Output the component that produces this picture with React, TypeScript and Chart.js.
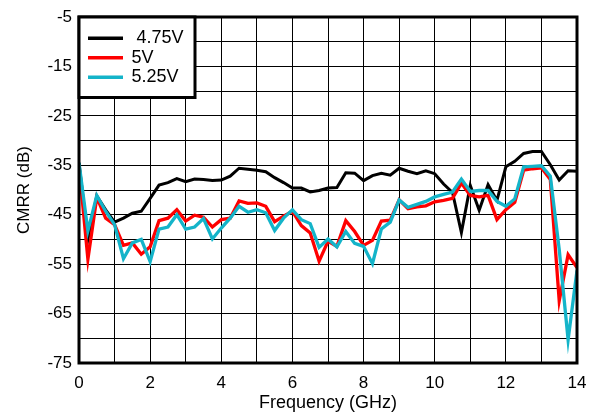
import React, { useEffect, useRef } from "react";
import { Chart, registerables } from "chart.js";

Chart.register(...registerables);

// Frequency points (GHz)
const FREQ_GHZ = [
  0, 0.25, 0.5, 0.75, 1, 1.25, 1.5, 1.75, 2, 2.25, 2.5, 2.75, 3, 3.25, 3.5, 3.75,
  4, 4.25, 4.5, 4.75, 5, 5.25, 5.5, 5.75, 6, 6.25, 6.5, 6.75, 7, 7.25, 7.5, 7.75,
  8, 8.25, 8.5, 8.75, 9, 9.25, 9.5, 9.75, 10, 10.25, 10.5, 10.75, 11, 11.25, 11.5,
  11.75, 12, 12.25, 12.5, 12.75, 13, 13.25, 13.5, 13.75, 14,
];

// CMRR (dB) for 4.75V supply
const CMRR_4V75 = [
  -34.5, -50, -41.2, -44, -46.5, -45.7, -44.7, -44.3, -41.7, -39, -38.5, -37.7, -38.3, -37.8, -37.9, -38.1,
  -38, -37.2, -35.6, -35.8, -36, -36.3, -37.5, -38.5, -39.6, -39.6, -40.4, -40.1, -39.6, -39.5, -36.5, -36.6,
  -38.1, -37.1, -36.6, -37, -35.6, -36.2, -36.7, -36.1, -36.7, -38.8, -40.5, -48.6, -39.1, -44.1, -38.9,
  -42.1, -35.3, -34.2, -32.6, -32.2, -32.2, -34.9, -38, -36.1, -36.2,
];

// CMRR (dB) for 5V supply
const CMRR_5V = [
  -35, -54, -41.5, -45.7, -47, -51.2, -50.7, -53, -51.5, -46.2, -45.7, -44, -46.3, -45.1, -45.5, -47.5,
  -46, -45.7, -42.2, -42.7, -42.6, -43.3, -46.4, -45.3, -44.3, -47.2, -48.7, -54.4, -50.4, -51.4, -46.2, -48.4,
  -51.2, -50.2, -46.3, -46.1, -42, -43.8, -43.4, -43.2, -42.4, -42.1, -41.7, -38.6, -41.1, -41.4, -41.1,
  -46, -44, -42.5, -36, -35.7, -35.5, -37.9, -62.4, -53.1, -55.7,
];

// CMRR (dB) for 5.25V supply
const CMRR_5V25 = [
  -34.5, -48.3, -41.1, -44.3, -47, -53.9, -50.7, -50, -54.5, -47.9, -47.5, -45, -47.9, -47.5, -45.8, -49.9,
  -47.7, -45.7, -43.3, -44.5, -44, -44.6, -48.2, -45.7, -44, -46, -46.8, -51.6, -49.9, -51.5, -48.4, -50.8,
  -51.4, -54.9, -47.9, -46.5, -42, -43.5, -42.9, -42.3, -41.4, -40.9, -40.4, -37.8, -40.3, -40.1, -40.1,
  -42.3, -43.3, -41.8, -35.3, -35.2, -35.1, -37.2, -52, -70.3, -56.3,
];

const SERIES_LABELS = [" 4.75V", "5V", "5.25V"];
const SERIES_COLORS = ["#000000", "#ff0000", "#14b4c9"];

const X_MIN = 0;
const X_MAX = 14;
const Y_MIN = -75;
const Y_MAX = -5;

const FONT = "'Liberation Sans', Arial, Helvetica, sans-serif";

const framePlugin = {
  id: "frame",
  afterDatasetsDraw(chart: any) {
    const { ctx, chartArea } = chart;
    const { left, top, right, bottom } = chartArea;
    ctx.save();
    ctx.lineWidth = 3;
    ctx.strokeStyle = "#000";
    ctx.strokeRect(left, top, right - left, bottom - top);
    ctx.restore();
  },
};

const boxLegendPlugin = {
  id: "boxLegend",
  afterDatasetsDraw(chart: any) {
    const { ctx, chartArea } = chart;
    const left = chartArea.left;
    const top = chartArea.top;
    const w = 116;
    const h = 80.5;
    ctx.save();
    ctx.fillStyle = "#fff";
    ctx.fillRect(left, top, w, h);
    ctx.lineWidth = 3;
    ctx.strokeStyle = "#000";
    ctx.strokeRect(left, top, w, h);
    chart.data.datasets.forEach((ds: any, i: number) => {
      const y = top + 21.3 + i * 19.5;
      ctx.beginPath();
      ctx.lineWidth = 3.5;
      ctx.strokeStyle = ds.borderColor;
      ctx.moveTo(left + 9, y);
      ctx.lineTo(left + 44, y);
      ctx.stroke();
      ctx.fillStyle = "#000";
      ctx.font = `18px ${FONT}`;
      ctx.textBaseline = "middle";
      ctx.textAlign = "left";
      ctx.fillText(ds.label, left + 52.5, y);
    });
    ctx.restore();
  },
};

export default function App() {
  const ref = useRef<HTMLCanvasElement>(null);

  useEffect(() => {
    const canvas = ref.current;
    if (!canvas) return;
    const series = [CMRR_4V75, CMRR_5V, CMRR_5V25];
    const chart = new Chart(canvas, {
      type: "line",
      data: {
        datasets: series.map((vals, i) => ({
          label: SERIES_LABELS[i],
          data: FREQ_GHZ.map((f, j) => ({ x: f, y: vals[j] })),
          borderColor: SERIES_COLORS[i],
          backgroundColor: SERIES_COLORS[i],
          borderWidth: i === 0 ? 3 : 3.3,
          pointRadius: 0,
          tension: 0,
          fill: false,
          order: 3 - i,
        })),
      },
      options: {
        responsive: false,
        animation: false,
        devicePixelRatio: 1,
        layout: { padding: { top: 17, right: 13, left: 0, bottom: 0 } },
        plugins: {
          legend: { display: false },
          tooltip: { enabled: false },
        },
        scales: {
          x: {
            type: "linear",
            min: X_MIN,
            max: X_MAX,
            afterFit(scale: any) {
              scale.height = 53;
              scale.paddingLeft = 0;
              scale.paddingRight = 0;
            },
            grid: { color: "#000", lineWidth: 1, drawTicks: false },
            border: { display: false },
            ticks: {
              stepSize: 1,
              autoSkip: false,
              maxRotation: 0,
              padding: 10,
              color: "#000",
              font: { family: FONT, size: 17 },
              callback: (v: any) => (Number(v) % 2 === 0 ? String(v) : ""),
            },
            title: {
              display: true,
              text: "Frequency (GHz)",
              color: "#000",
              font: { family: FONT, size: 18 },
              padding: { top: 0, bottom: 2 },
            },
          },
          y: {
            type: "linear",
            min: Y_MIN,
            max: Y_MAX,
            afterFit(scale: any) {
              scale.width = 79;
              scale.paddingTop = 0;
              scale.paddingBottom = 0;
            },
            grid: { color: "#000", lineWidth: 1, drawTicks: false },
            border: { display: false },
            ticks: {
              stepSize: 5,
              autoSkip: false,
              padding: 7,
              color: "#000",
              font: { family: FONT, size: 17 },
              callback: (v: any) => ((Number(v) - Y_MIN) % 10 === 0 ? String(v) : ""),
            },
            title: {
              display: true,
              text: "CMRR (dB)",
              color: "#000",
              font: { family: FONT, size: 17 },
              padding: { top: 14, bottom: 0 },
            },
          },
        },
      },
      plugins: [framePlugin, boxLegendPlugin],
    } as any);
    return () => chart.destroy();
  }, []);

  return (
    <div style={{ position: "absolute", left: 0, top: 0, width: 590, height: 416, background: "#fff" }}>
      <canvas ref={ref} width={590} height={416} style={{ display: "block", width: 590, height: 416 }} />
    </div>
  );
}
